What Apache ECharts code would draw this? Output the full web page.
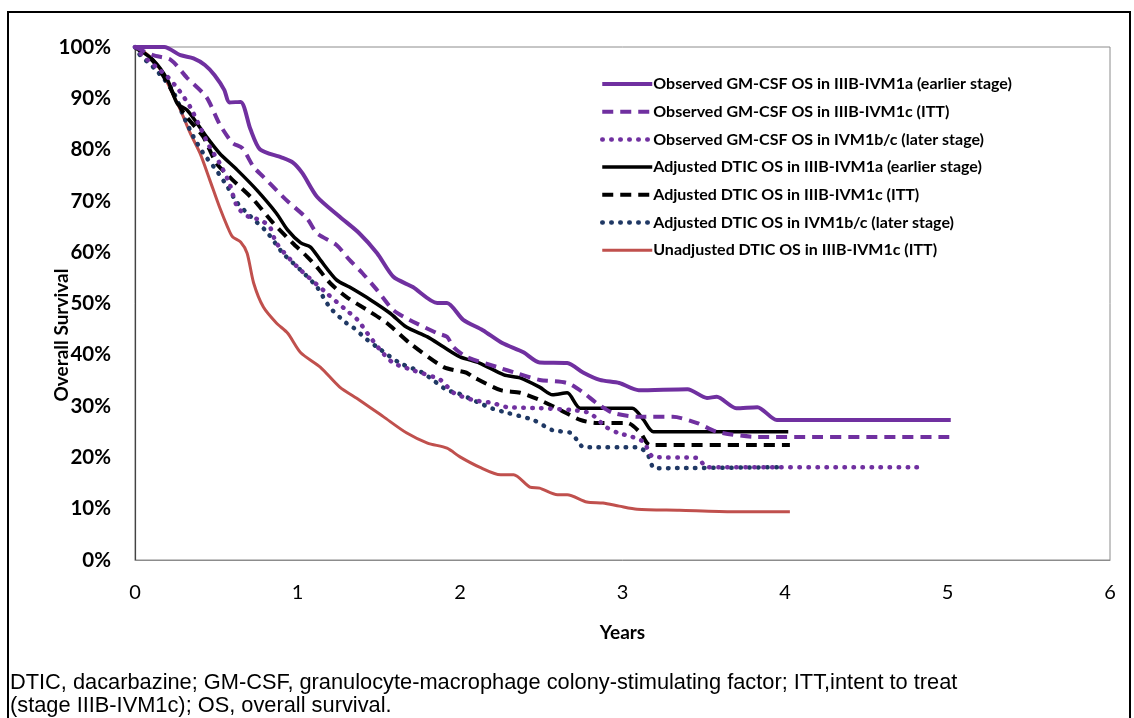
<!DOCTYPE html>
<html>
<head>
<meta charset="utf-8">
<script src="https://cdn.jsdelivr.net/npm/echarts@6/dist/echarts.min.js"></script>
<style>
  html, body { margin: 0; padding: 0; background: #fff; }
  #chart { width: 1134px; height: 718px; }
</style>
</head>
<body>
<div id="chart"></div>
<script>
// ---- Data (years, % overall survival) ----
var xTicks = [0, 1, 2, 3, 4, 5, 6];
var yTicks = [0, 10, 20, 30, 40, 50, 60, 70, 80, 90, 100];

var obsEarlyT = [0,0.18,0.28,0.36,0.43,0.49,0.55,0.58,0.65,0.71,0.77,0.9,0.97,1.03,1.12,1.26,1.38,1.49,1.59,1.71,1.86,1.92,2.02,2.14,2.26,2.39,2.49,2.66,2.76,2.86,2.98,3.1,3.4,3.52,3.58,3.7,3.83,3.95,5.02];
var obsEarlyS = [100,100,98.4,97.8,96.5,94.5,91.6,89.2,89.3,84,80,78.5,77.5,75.4,70.8,66.9,63.7,59.8,55.2,53.2,50.1,50.1,46.8,44.8,42.3,40.5,38.5,38.4,36.5,35.1,34.5,33.1,33.3,31.6,31.8,29.6,29.8,27.3,27.3];

var obsIttT = [0,0.11,0.22,0.32,0.44,0.52,0.6,0.66,0.73,0.79,0.93,1.06,1.12,1.24,1.32,1.4,1.49,1.59,1.69,1.86,1.92,1.96,2.04,2.23,2.35,2.49,2.66,2.76,2.84,2.94,3.1,3.31,3.46,3.58,3.83,5.02];
var obsIttS = [100,98.4,97.5,94,90.2,85,81.3,80.3,76.6,74.7,70.2,66.5,63.7,61.4,58.5,55.9,52.6,48.7,46.8,44.2,43.5,41.5,39.6,37.6,36.4,35.1,34.5,32.6,30.6,28.7,27.9,27.9,26.7,25,24,24];

var obsLateT = [0,0.03,0.13,0.2,0.27,0.34,0.4,0.46,0.52,0.58,0.63,0.7,0.77,0.83,0.87,1.0,1.18,1.3,1.37,1.43,1.51,1.59,1.71,1.88,1.96,2.08,2.2,2.29,2.49,2.7,2.8,2.9,2.97,3.06,3.13,3.19,3.46,3.52,4.82];
var obsLateS = [100,98.8,96.1,94.2,91.6,88.3,84.4,80.5,77.4,73.5,68.8,66.9,66.3,64.9,61.8,57.1,52,48.7,46.8,44.2,40.9,38.4,37,35.1,32.6,31.2,30.6,29.8,29.6,29.2,28.6,25.9,24.8,24,23,20.1,19.9,18.1,18.1];

var adjEarlyT = [0,0.11,0.2,0.26,0.32,0.38,0.44,0.52,0.63,0.75,0.87,0.94,1.02,1.08,1.14,1.24,1.32,1.45,1.57,1.67,1.8,1.9,2.0,2.12,2.27,2.37,2.49,2.57,2.66,2.74,3.06,3.13,3.19,4.02];
var adjEarlyS = [100,97.5,93.6,89,87.7,85.2,82.5,79.3,76,72.1,67.6,64.3,61.8,61,58.5,54.6,53.2,50.7,48.1,45.4,43.5,41.5,39.6,38.4,36.1,35.5,33.7,32.2,32.6,29.6,29.6,27.3,25,25];

var adjIttT = [0,0.11,0.2,0.3,0.42,0.5,0.6,0.73,0.85,0.97,1.06,1.12,1.2,1.3,1.43,1.55,1.69,1.9,2.04,2.08,2.25,2.37,2.49,2.62,2.74,2.84,3.03,3.11,3.17,4.03];
var adjIttS = [100,97.3,93,87.1,82.5,77.4,74.1,70.2,65.7,61.8,59.1,57.1,54,51.3,48.7,46.2,42.3,37.6,36.5,35.7,33.1,32.6,31.2,29.2,27.3,26.7,26.7,24.8,22.4,22.4];

var adjLateT = [0,0.02,0.13,0.23,0.3,0.36,0.42,0.5,0.57,0.63,0.71,0.81,0.91,1.02,1.12,1.2,1.3,1.34,1.43,1.49,1.63,1.77,1.92,1.98,2.12,2.2,2.29,2.45,2.57,2.68,2.72,2.76,3.09,3.15,3.2,3.99];
var adjLateS = [100,98.8,95.5,91.6,86.4,82.5,79.3,76,72.7,69.6,67,64,59.8,56.5,53.2,49.2,46.2,45.4,42.9,41.5,38.4,36.5,33.1,32.6,30.6,29.5,28.7,27.3,25.3,24.8,23.4,22,22,20.9,17.9,18.1];

var unadjT = [0,0.04,0.11,0.17,0.23,0.28,0.34,0.4,0.46,0.52,0.57,0.6,0.65,0.69,0.73,0.79,0.87,0.94,1.02,1.14,1.26,1.38,1.53,1.67,1.8,1.92,2.0,2.12,2.25,2.33,2.43,2.49,2.6,2.66,2.78,2.88,2.98,3.09,3.35,3.68,4.03];
var unadjS = [100,99.4,97.5,94.9,91,87.7,83.2,79.3,74.1,68.8,64.9,63,62,59.8,54,49.3,46.2,44.2,40.4,37.6,33.7,31.2,27.9,24.8,22.8,21.8,20.1,18.1,16.6,16.6,14.2,14,12.7,12.7,11.3,11.1,10.5,9.9,9.7,9.4,9.4];

var seriesNames = [
  'Observed GM-CSF OS in IIIB-IVM1a (earlier stage)',
  'Observed GM-CSF OS in IIIB-IVM1c (ITT)',
  'Observed GM-CSF OS in IVM1b/c (later stage)',
  'Adjusted DTIC OS in IIIB-IVM1a (earlier stage)',
  'Adjusted DTIC OS in IIIB-IVM1c (ITT)',
  'Adjusted DTIC OS in IVM1b/c (later stage)',
  'Unadjusted DTIC OS in IIIB-IVM1c (ITT)'
];
var footnote1 = 'DTIC, dacarbazine; GM-CSF, granulocyte-macrophage colony-stimulating factor; ITT,intent to treat';
var footnote2 = '(stage IIIB-IVM1c); OS, overall survival.';

function pairs(t, s) { return t.map(function (v, i) { return [v, s[i]]; }); }

var PURPLE = '#7030A0', BLACK = '#000000', NAVY = '#1F3864', RED = '#C0504D';
var styles = [
  { color: PURPLE, width: 4, type: 'solid' },
  { color: PURPLE, width: 4, type: [11, 7] },
  { color: PURPLE, width: 4.5, type: [0.5, 8.5], cap: 'round' },
  { color: BLACK, width: 3.5, type: 'solid' },
  { color: BLACK, width: 4, type: [11, 7] },
  { color: NAVY, width: 4.5, type: [0.5, 8.5], cap: 'round' },
  { color: RED, width: 3, type: 'solid' }
];
var dataSets = [
  pairs(obsEarlyT, obsEarlyS), pairs(obsIttT, obsIttS), pairs(obsLateT, obsLateS),
  pairs(adjEarlyT, adjEarlyS), pairs(adjIttT, adjIttS), pairs(adjLateT, adjLateS),
  pairs(unadjT, unadjS)
];

var series = dataSets.map(function (d, i) {
  return {
    name: seriesNames[i], type: 'line', data: d, showSymbol: false, symbol: 'none',
    smooth: 0.25, z: 10 - i,
    lineStyle: styles[i], itemStyle: { color: styles[i].color },
    emphasis: { disabled: true }
  };
});

var legendData = seriesNames.map(function (n, i) {
  return {
    name: n,
    itemStyle: { opacity: 0 },
    lineStyle: { color: styles[i].color, width: styles[i].width, type: styles[i].type, cap: styles[i].cap || 'butt' }
  };
});

var chart = echarts.init(document.getElementById('chart'), null, { renderer: 'canvas' });
chart.setOption({
  animation: false,
  backgroundColor: '#fff',
  grid: { left: 135, right: 24, top: 47, bottom: 158, show: true, borderColor: '#8c8c8c', borderWidth: 1, containLabel: false },
  legend: {
    orient: 'vertical', left: 600, top: 76, padding: 0,
    itemWidth: 50, itemHeight: 16, itemGap: 11.7,
    data: legendData,
    itemStyle: { opacity: 0 },
    textStyle: { fontFamily: 'Lato', fontWeight: 'bold', fontSize: 16, color: '#000', padding: [0, 0, 0, -4] },
    selectedMode: false
  },
  xAxis: {
    type: 'value', min: 0, max: 6, interval: 1,
    name: 'Years', nameLocation: 'middle', nameGap: 63,
    nameTextStyle: { fontFamily: 'Lato', fontWeight: 'bold', fontSize: 19, color: '#000' },
    axisLine: { show: true, lineStyle: { color: '#8c8c8c', width: 1 } },
    axisTick: { show: false },
    splitLine: { show: false },
    axisLabel: { margin: 23, fontFamily: 'Lato', fontSize: 20, color: '#000' }
  },
  yAxis: {
    type: 'value', min: 0, max: 100, interval: 10,
    axisLine: { show: true, lineStyle: { color: '#444', width: 1.2 } },
    axisTick: { show: false },
    splitLine: { show: false },
    axisLabel: { margin: 24, fontFamily: 'Lato', fontWeight: 'bold', fontSize: 20.5, color: '#000', formatter: '{value}%' }
  },
  graphic: [
    { type: 'rect', shape: { x: 8, y: 12, width: 1122, height: 720 }, style: { fill: 'none', stroke: '#000', lineWidth: 2 }, silent: true },
    { type: 'text', x: 62, y: 335, rotation: Math.PI / 2,
      style: { text: 'Overall Survival', fontFamily: 'Lato', fontWeight: 'bold', fontSize: 19, fill: '#000', textAlign: 'center', textVerticalAlign: 'middle' } },
    { type: 'text', x: 10, y: 683,
      style: { text: footnote1, fontFamily: 'Liberation Sans', fontSize: 21.8, fill: '#000', textAlign: 'left', textVerticalAlign: 'middle' } },
    { type: 'text', x: 10, y: 706,
      style: { text: footnote2, fontFamily: 'Liberation Sans', fontSize: 21.8, fill: '#000', textAlign: 'left', textVerticalAlign: 'middle' } }
  ],
  series: series
});
</script>
</body>
</html>
